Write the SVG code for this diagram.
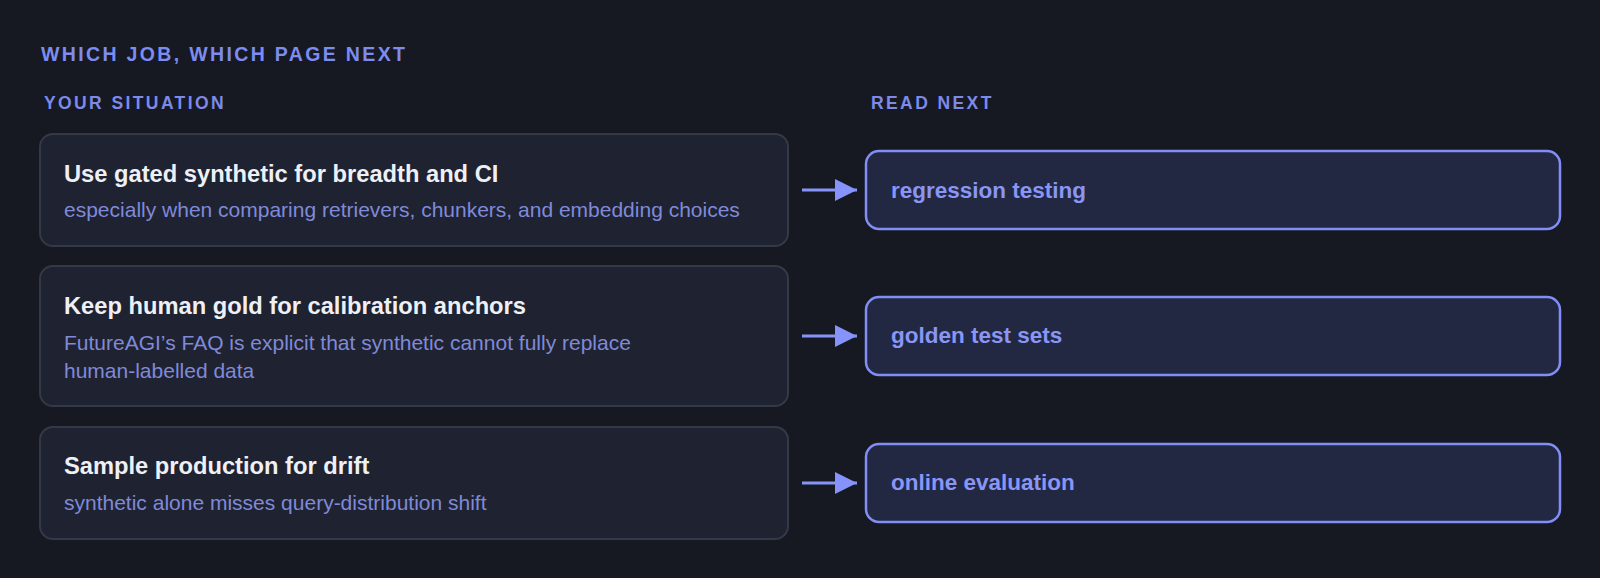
<svg xmlns="http://www.w3.org/2000/svg" width="1600" height="578" viewBox="0 0 1600 578">
<defs>
<style>
.bg{fill:#161922}
.card{fill:#1f2230;stroke:#343946;stroke-width:2}
.next{fill:#222842;stroke:#818ef5;stroke-width:2.5}
.title{font-family:"Liberation Sans",Arial,sans-serif;font-weight:700;font-size:19.5px;fill:#7d8cf0;letter-spacing:2.35px}
.col{font-family:"Liberation Sans",Arial,sans-serif;font-weight:700;font-size:17.5px;fill:#7d8ae8;letter-spacing:2.4px}
.head{font-family:"Liberation Sans",Arial,sans-serif;font-weight:700;font-size:23.7px;fill:#eef0f6}
.sub{font-family:"Liberation Sans",Arial,sans-serif;font-size:21px;fill:#7f8ad9}
.lbl{font-family:"Liberation Sans",Arial,sans-serif;font-weight:700;font-size:22.5px;fill:#8a96f5}
.conn{stroke:#8593fa;stroke-width:3;fill:none}
</style>
<marker id="ah" viewBox="0 0 22 22" refX="22" refY="11" markerWidth="22" markerHeight="22" markerUnits="userSpaceOnUse" orient="auto">
<path d="M0 0 L22 11 L0 22 Z" fill="#8593fa"/>
</marker>
</defs>
<rect class="bg" x="0" y="0" width="1600" height="578"/>
<text class="title" x="41" y="61">WHICH JOB, WHICH PAGE NEXT</text>
<text class="col" x="44" y="109">YOUR SITUATION</text>
<text class="col" x="871" y="109">READ NEXT</text>

<g id="situation-1">
<rect class="card" x="40" y="134" width="748" height="112" rx="13"/>
<text class="head" x="64" y="182">Use gated synthetic for breadth and CI</text>
<text class="sub" x="64" y="217">especially when comparing retrievers, chunkers, and embedding choices</text>
</g>
<g id="situation-2">
<rect class="card" x="40" y="266" width="748" height="140" rx="13"/>
<text class="head" x="64" y="314">Keep human gold for calibration anchors</text>
<text class="sub" x="64" y="350">FutureAGI’s FAQ is explicit that synthetic cannot fully replace</text>
<text class="sub" x="64" y="378">human-labelled data</text>
</g>
<g id="situation-3">
<rect class="card" x="40" y="427" width="748" height="112" rx="13"/>
<text class="head" x="64" y="474">Sample production for drift</text>
<text class="sub" x="64" y="510">synthetic alone misses query-distribution shift</text>
</g>

<g id="next-1">
<rect class="next" x="866" y="151" width="694" height="78" rx="13"/>
<text class="lbl" x="891" y="198">regression testing</text>
</g>
<g id="next-2">
<rect class="next" x="866" y="297" width="694" height="78" rx="13"/>
<text class="lbl" x="891" y="343">golden test sets</text>
</g>
<g id="next-3">
<rect class="next" x="866" y="444" width="694" height="78" rx="13"/>
<text class="lbl" x="891" y="490">online evaluation</text>
</g>

<g id="connectors">
<line class="conn" x1="802" y1="190" x2="857" y2="190" marker-end="url(#ah)"/>
<line class="conn" x1="802" y1="336" x2="857" y2="336" marker-end="url(#ah)"/>
<line class="conn" x1="802" y1="483" x2="857" y2="483" marker-end="url(#ah)"/>
</g>
</svg>
